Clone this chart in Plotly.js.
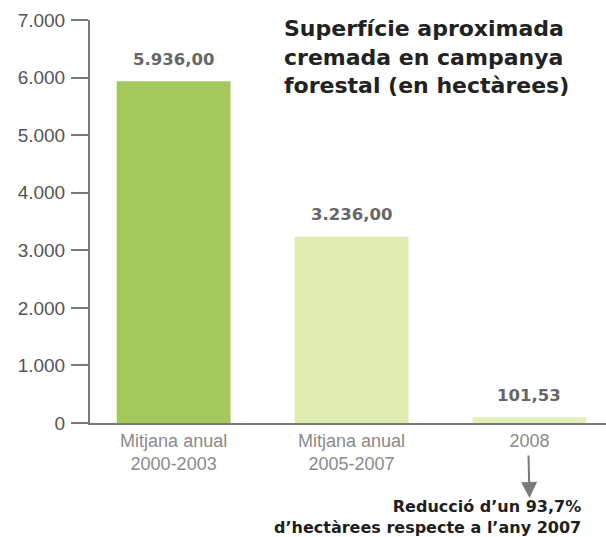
<!DOCTYPE html>
<html>
<head>
<meta charset="utf-8">
<script src="https://cdn.plot.ly/plotly-3.0.1.min.js"></script>
<style>html,body{margin:0;padding:0;background:#fff;}#chart{width:606px;height:537px;}</style>
</head>
<body>
<div id="chart"></div>
<script>
var categories = ["Mitjana anual<br>2000-2003", "Mitjana anual<br>2005-2007", "2008"];
var values = [5936.00, 3236.00, 101.53];
var valueLabels = ["5.936,00", "3.236,00", "101,53"];
var yTicks = [0, 1000, 2000, 3000, 4000, 5000, 6000, 7000];
var chartTitle = "Superfície aproximada<br>cremada en campanya<br>forestal (en hectàrees)";
var noteText = "Reducció d’un 93,7%<br>d’hectàrees respecte a l’any 2007";
var noteCategory = "2008";

var barColors = ["#a3c85b", "#dfedb0", "#e4f0bb"];
var font = "Liberation Sans, Arial, sans-serif";
var boldFont = "DejaVu Sans, sans-serif";

var trace = {
  type: "bar",
  x: categories,
  y: values,
  marker: {color: barColors, line: {width: 0}},
  hoverinfo: "none"
};

var annotations = categories.map(function (c, i) {
  return {
    x: i, y: values[i], xref: "x", yref: "y",
    text: "<b>" + valueLabels[i] + "</b>",
    showarrow: false, yanchor: "middle", yshift: 22,
    font: {family: boldFont, size: 16.5, color: "#666666"}
  };
});
annotations.push({
  xref: "paper", yref: "paper", x: 0.372, y: 0.907,
  xanchor: "left", yanchor: "middle", align: "left",
  text: "<b>" + chartTitle + "</b>", showarrow: false,
  font: {family: boldFont, size: 22, color: "#222222"}
});
annotations.push({
  x: categories.indexOf(noteCategory), xref: "x", yref: "paper", y: -0.186,
  ax: -1, ay: -44, text: "", showarrow: true,
  arrowhead: 2, arrowsize: 1.6, arrowwidth: 2, arrowcolor: "#7a7a7a"
});
annotations.push({
  xref: "paper", yref: "paper", x: 0.955, y: -0.233,
  xanchor: "right", yanchor: "middle", align: "right",
  text: "<b>" + noteText + "</b>", showarrow: false,
  font: {family: boldFont, size: 16, color: "#1e1e1e"}
});

var layout = {
  width: 606, height: 537,
  margin: {l: 90, r: 0, t: 20, b: 114},
  paper_bgcolor: "#ffffff", plot_bgcolor: "#ffffff",
  separators: ",.",
  showlegend: false,
  bargap: 0.36,
  font: {family: font},
  xaxis: {
    type: "category",
    range: [-0.47, 2.43],
    showline: true, linecolor: "#7a7a7a", linewidth: 2,
    ticks: "", showgrid: false, zeroline: false,
    tickfont: {family: font, size: 18, color: "#8a8a8a"},
    fixedrange: true
  },
  yaxis: {
    range: [0, 7000],
    tickvals: yTicks, tickformat: ",d",
    showline: true, linecolor: "#7a7a7a", linewidth: 2,
    ticks: "outside", ticklen: 17, tickwidth: 2, tickcolor: "#7a7a7a",
    ticklabelstandoff: 2,
    showgrid: false, zeroline: false,
    tickfont: {family: font, size: 19, color: "#555555"},
    fixedrange: true
  },
  annotations: annotations
};

Plotly.newPlot("chart", [trace], layout, {displayModeBar: false, staticPlot: true});
</script>
</body>
</html>
